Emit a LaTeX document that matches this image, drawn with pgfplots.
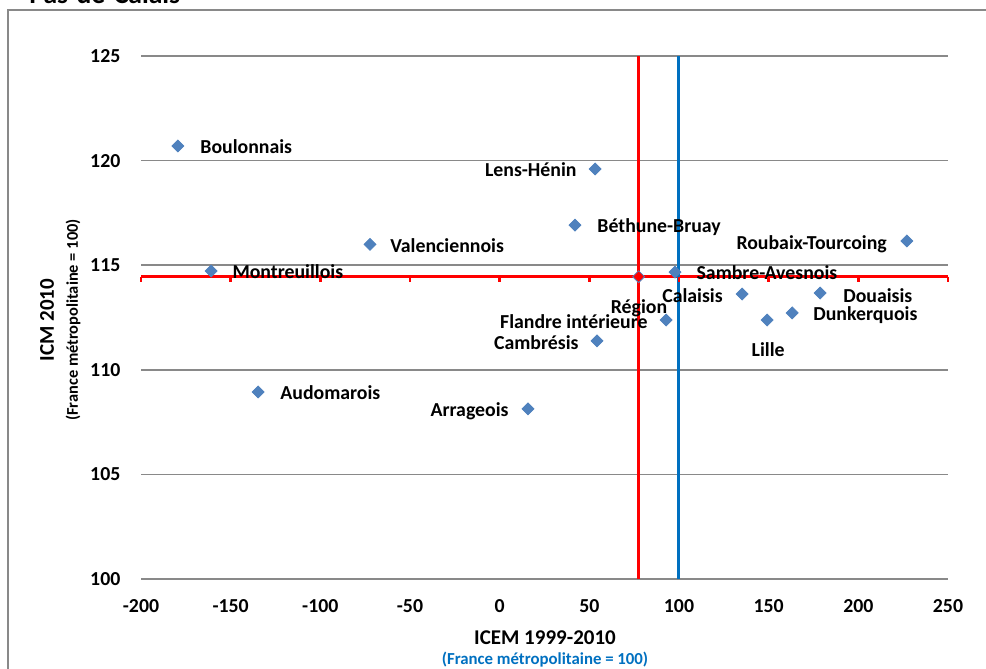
\documentclass[border=0pt]{standalone}
\usepackage{pgfplots}
\pgfplotsset{compat=1.18}
\usepackage{fontspec}
\setmainfont{Carlito}
\definecolor{ptblue}{HTML}{4F81BD}
\definecolor{lblue}{HTML}{0070C0}
\definecolor{gridgray}{HTML}{898989}
\tikzset{lab/.style={inner sep=0pt, text height=0.64em, text depth=0pt, font=\fontsize{9.9}{12}\selectfont\bfseries}}
\begin{document}
\begin{tikzpicture}[x=0.5pt,y=-0.5pt]
\path[use as bounding box, clip] (0,0) rectangle (986,669);
\draw[gridgray, line width=0.75pt] (8,10) rectangle (1100,800);
\node[anchor=base west, inner sep=0, font=\fontsize{13.8}{15}\selectfont\bfseries] at (29,3.5) {Pas-de-Calais};
\node[anchor=base east, inner sep=0, font=\fontsize{13.8}{15}\selectfont\bfseries] at (3,3.5) {Nord -};
\begin{axis}[at={(70.5pt,-289.5pt)}, anchor=south west,
  scale only axis, width=403.5pt, height=261.5pt,
  xmin=-200, xmax=250, ymin=100, ymax=125,
  xtick={-200,-150,...,250}, ytick={100,105,...,125},
  axis line style={draw=none}, major tick length=0pt,
  ymajorgrids, grid style={gridgray, line width=0.8pt},
  tick label style={font=\fontsize{9.9}{12}\selectfont\bfseries},
  /pgf/number format/assume math mode=true,
  xticklabel style={yshift=-6.8pt}, yticklabel style={xshift=-6.8pt},
  clip=false,
]
\addplot[red, line width=1.45pt, mark=|, mark size=1.3pt, mark options={yshift=-1.3pt, solid}] coordinates {(-200,114.45) (-150,114.45) (-100,114.45) (-50,114.45) (0,114.45) (50,114.45) (100,114.45) (150,114.45) (200,114.45) (250,114.45)};
\addplot[red, line width=1.45pt] coordinates {(77.5,100) (77.5,125)};
\addplot[draw=lblue, line width=1.6pt] coordinates {(99.9,100) (99.9,125)};
\addplot[only marks, mark=square*, mark size=2.1pt, mark options={rotate=45, fill=ptblue, draw=ptblue}] coordinates {
(-179.4,120.7) (-160.9,114.72) (-134.7,108.94) (-72.3,116.0) (15.8,108.13) (42.0,116.92) (53.2,119.6) (54.3,111.38) (92.8,112.38) (97.8,114.67) (135.2,113.62) (149.2,112.38) (163.1,112.72) (178.7,113.67) (227.1,116.16)};
\addplot[only marks, mark=square*, mark size=2.1pt, mark options={rotate=45, fill=red, draw=ptblue}] coordinates {(77.5,114.45)};
\node[lab, anchor=west] at (axis cs:-167.1,120.65) {Boulonnais};
\node[lab, anchor=west] at (axis cs:-149.2,114.67) {Montreuillois};
\node[lab, anchor=west] at (axis cs:-122.5,108.89) {Audomarois};
\node[lab, anchor=west] at (axis cs:-61.2,115.92) {Valenciennois};
\node[lab, anchor=east] at (axis cs:5.2,108.08) {Arrageois};
\node[lab, anchor=west] at (axis cs:54.3,116.87) {Béthune-Bruay};
\node[lab, anchor=east] at (axis cs:43.1,119.55) {Lens-Hénin};
\node[lab, anchor=east] at (axis cs:44.2,111.28) {Cambrésis};
\node[lab, anchor=east] at (axis cs:82.7,112.30) {Flandre intérieure};
\node[lab, anchor=center] at (axis cs:77.7,113.0) {Région};
\node[lab, anchor=east] at (axis cs:124.6,113.53) {Calaisis};
\node[lab, anchor=west] at (axis cs:109.6,114.64) {Sambre-Avesnois};
\node[lab, anchor=west] at (axis cs:191.4,113.54) {Douaisis};
\node[lab, anchor=west] at (axis cs:174.7,112.65) {Dunkerquois};
\node[lab, anchor=center] at (axis cs:149.7,110.95) {Lille};
\node[lab, anchor=east] at (axis cs:216.1,116.05) {Roubaix-Tourcoing};
\end{axis}
\node[font=\fontsize{10.5}{12}\selectfont\bfseries] at (545,638) {ICEM 1999-2010};
\node[lblue, font=\fontsize{8.4}{9}\selectfont\bfseries] at (545,660) {(France métropolitaine = 100)};
\node[rotate=90, font=\fontsize{10.5}{12}\selectfont\bfseries] at (47,320) {ICM 2010};
\node[rotate=90, font=\fontsize{8.2}{9}\selectfont\bfseries] at (73,320) {(France métropolitaine = 100)};
\end{tikzpicture}
\end{document}
